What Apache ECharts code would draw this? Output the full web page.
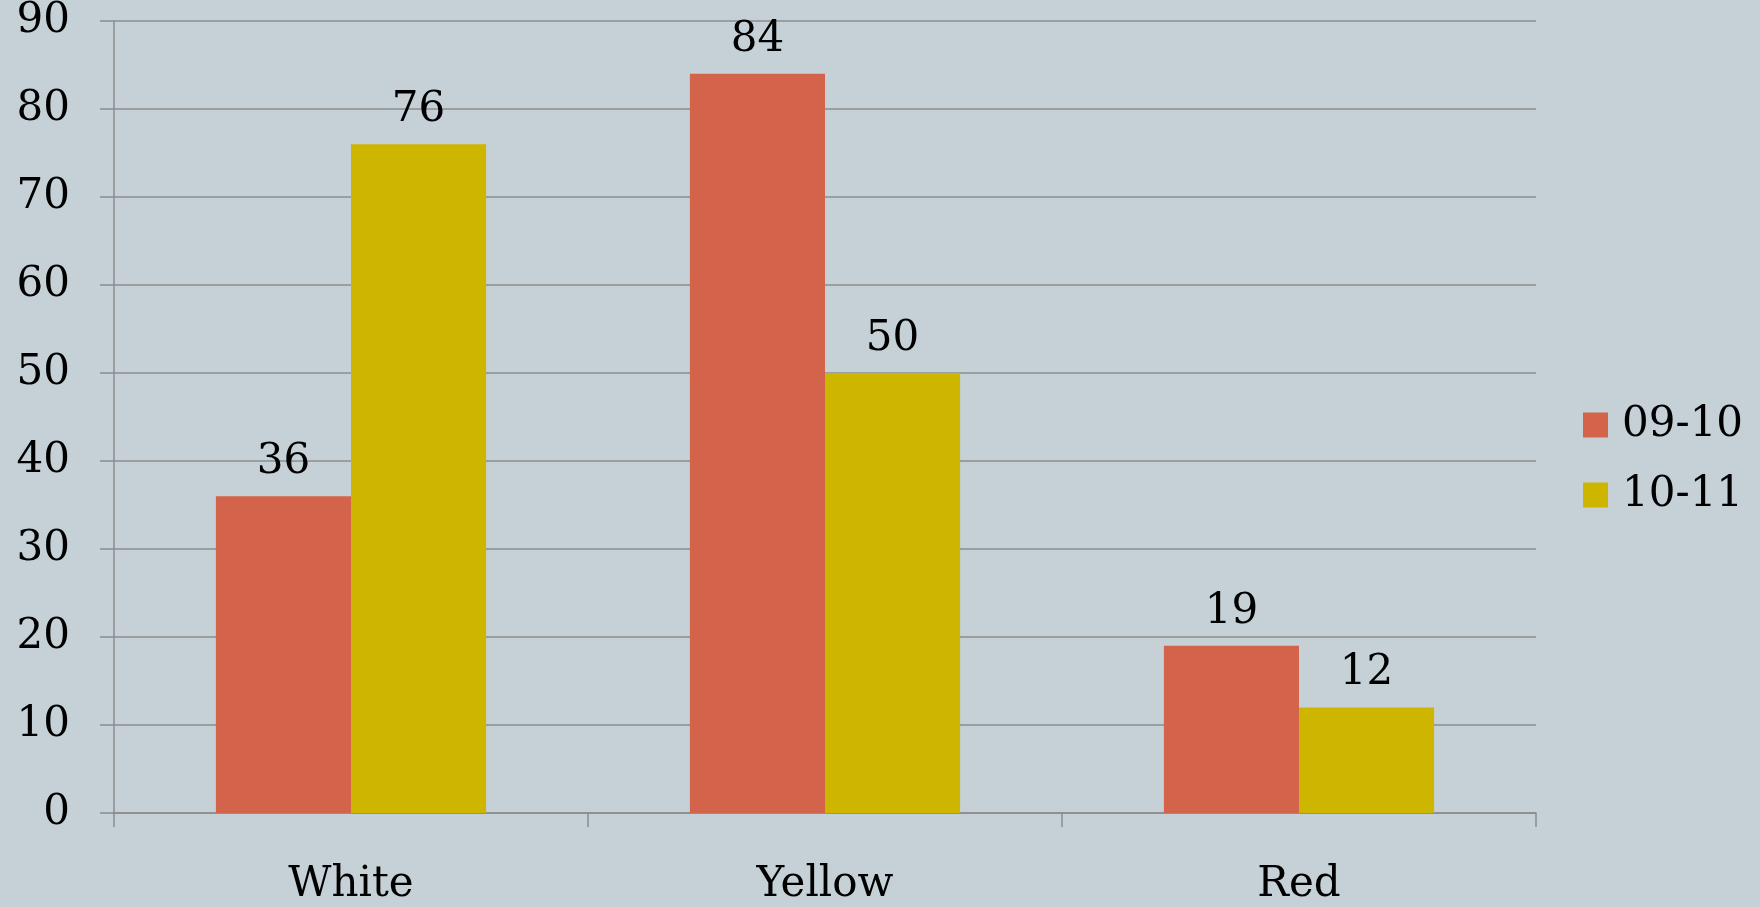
<!DOCTYPE html>
<html>
<head>
<meta charset="utf-8">
<script src="https://cdn.jsdelivr.net/npm/echarts@6/dist/echarts.min.js"></script>
<style>
  html, body { margin: 0; padding: 0; background: #C5D1D7; }
  #chart { width: 1760px; height: 907px; }
</style>
</head>
<body>
<div id="chart"></div>
<script>
// Colour categories and the two seasons compared
const categories = ['White', 'Yellow', 'Red'];
const season0910 = [36, 84, 19];
const season1011 = [76, 50, 12];
const seriesNames = ['09-10', '10-11'];

const FONT = 'DejaVu Serif';
const GRID_GRAY = '#8C8C8C';

const chart = echarts.init(document.getElementById('chart'), null, { renderer: 'canvas' });

const labelStyle = {
  show: true,
  position: 'top',
  distance: 13,
  fontFamily: FONT,
  fontSize: 42,
  color: '#000'
};

chart.setOption({
  backgroundColor: '#C5D1D7',
  animation: false,
  grid: { left: 114, right: 224, top: 20, bottom: 94, containLabel: false },
  legend: {
    orient: 'vertical',
    left: 1578,
    top: 399,
    itemWidth: 25,
    itemHeight: 25,
    itemGap: 28,
    icon: 'rect',
    textStyle: { fontFamily: FONT, fontSize: 42, color: '#000', padding: [0, 0, 0, 9] },
    data: seriesNames
  },
  xAxis: {
    type: 'category',
    data: categories,
    axisLine: { show: true, lineStyle: { color: GRID_GRAY, width: 1.5 } },
    axisTick: { show: true, length: 14, inside: false, lineStyle: { color: GRID_GRAY, width: 1.5 } },
    axisLabel: { fontFamily: FONT, fontSize: 42, color: '#000', margin: 51 }
  },
  yAxis: {
    type: 'value',
    min: 0,
    max: 90,
    interval: 10,
    axisLine: { show: true, lineStyle: { color: GRID_GRAY, width: 1.5 } },
    axisTick: { show: true, length: 14, lineStyle: { color: GRID_GRAY, width: 1.5 } },
    splitLine: { show: true, lineStyle: { color: GRID_GRAY, width: 1.5 } },
    axisLabel: { fontFamily: FONT, fontSize: 42, color: '#000', margin: 44 }
  },
  series: [
    {
      name: seriesNames[0],
      type: 'bar',
      data: season0910,
      barGap: '0%',
      barCategoryGap: '43%',
      itemStyle: { color: '#D3634A' },
      label: labelStyle
    },
    {
      name: seriesNames[1],
      type: 'bar',
      data: season1011,
      barGap: '0%',
      barCategoryGap: '43%',
      itemStyle: { color: '#CDB500' },
      label: labelStyle
    }
  ]
});
</script>
</body>
</html>
